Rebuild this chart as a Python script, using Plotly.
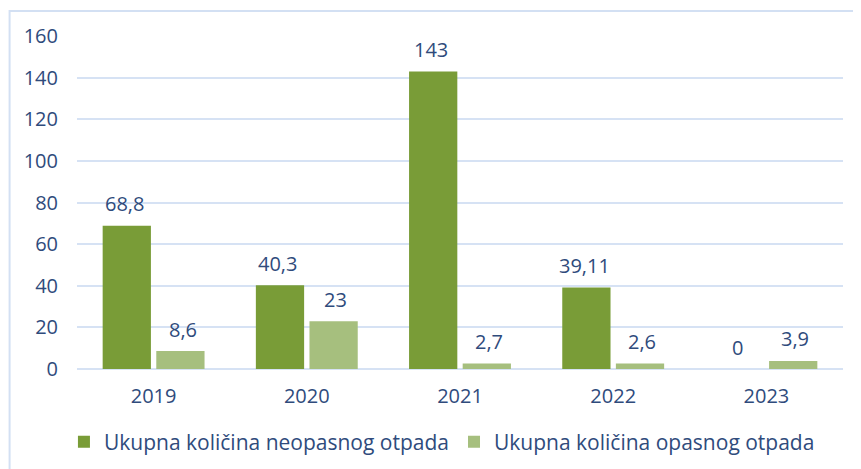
import plotly.graph_objects as go

years = ["2019", "2020", "2021", "2022", "2023"]
neopasni = [68.8, 40.3, 143, 39.11, 0]
opasni = [8.6, 23, 2.7, 2.6, 3.9]
neopasni_labels = ["68,8", "40,3", "143", "39,11", "0"]
opasni_labels = ["8,6", "23", "2,7", "2,6", "3,9"]
name1 = "Ukupna količina neopasnog otpada"
name2 = "Ukupna količina opasnog otpada"
yticks = [0, 20, 40, 60, 80, 100, 120, 140, 160]

txt = "#2f4b7c"
font = "Open Sans"

fig = go.Figure()
fig.add_trace(go.Bar(x=years, y=neopasni, name=name1,
                     marker=dict(color="#799c37", line=dict(width=0))))
fig.add_trace(go.Bar(x=years, y=opasni, name=name2,
                     marker=dict(color="#a6bf7e", line=dict(width=0))))

for i, y in enumerate(years):
    fig.add_annotation(x=i, y=neopasni[i], text=neopasni_labels[i], xshift=-29,
                       yshift=22, showarrow=False, font=dict(size=20, color=txt, family=font))
    fig.add_annotation(x=i, y=opasni[i], text=opasni_labels[i], xshift=29,
                       yshift=22, showarrow=False, font=dict(size=20, color=txt, family=font))

fig.add_shape(type="rect", xref="paper", yref="paper",
              x0=-0.088, x1=1.0196, y0=-0.40, y1=1.075,
              line=dict(color="#d3e0f3", width=2), fillcolor="rgba(0,0,0,0)", layer="below")

fig.update_layout(
    width=861, height=469,
    margin=dict(l=69, r=26, t=28, b=108, autoexpand=False),
    paper_bgcolor="white", plot_bgcolor="white",
    barmode="group", bargap=0.30, bargroupgap=0.10,
    font=dict(family=font, color=txt, size=20),
    showlegend=True,
    legend=dict(orientation="h", xref="container", x=0.504, xanchor="center",
                yref="container", y=0.0746, yanchor="middle",
                font=dict(size=21, color=txt, family=font), itemwidth=30,
                traceorder="normal"),
    xaxis=dict(type="category", range=[-0.5, len(years) - 0.5], showgrid=False,
               showline=False, zeroline=False, automargin=False,
               tickfont=dict(size=20, color=txt), ticklabelstandoff=13),
    yaxis=dict(range=[0, 160], tickvals=yticks, showgrid=True, gridcolor="#d6e2f4",
               gridwidth=2, zeroline=True, zerolinecolor="#d6e2f4", zerolinewidth=2,
               showline=False, automargin=False,
               tickfont=dict(size=20, color=txt), ticklabelstandoff=18),
)

fig.write_html("out.html")
